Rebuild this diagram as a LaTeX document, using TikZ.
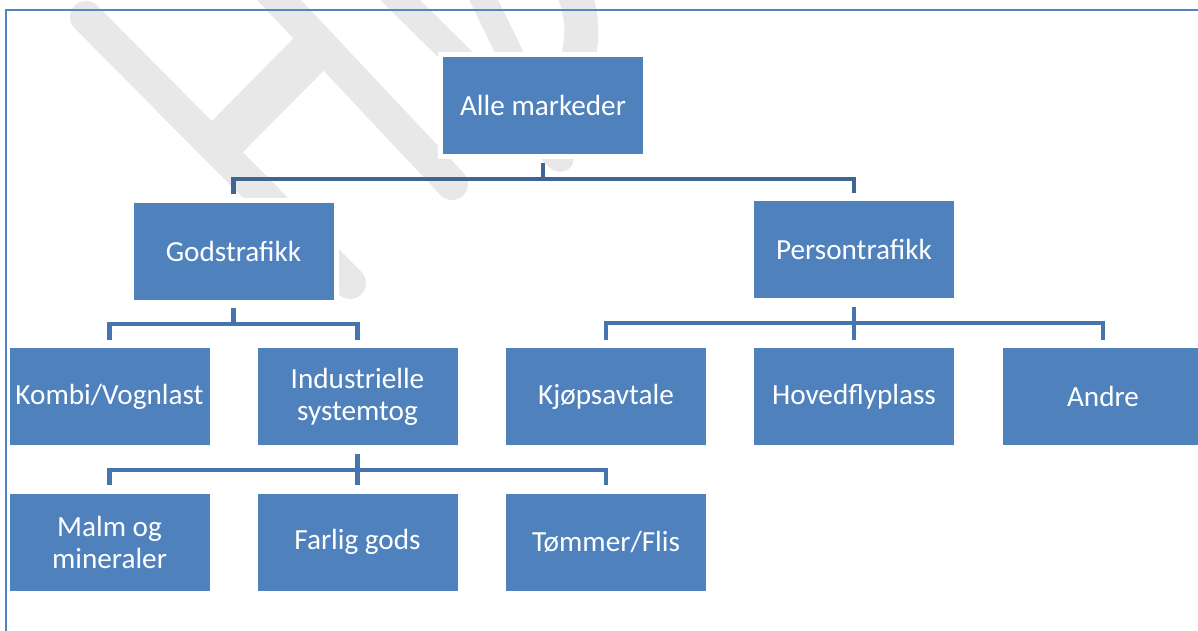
\documentclass[tikz,border=0pt]{standalone}
\usepackage{fontspec}
\setmainfont{Carlito}
\definecolor{boxblue}{HTML}{4F81BD}
\definecolor{connA}{HTML}{3E6596}
\definecolor{connB}{HTML}{4674AC}
\definecolor{wmgray}{HTML}{E8E8E8}
\definecolor{frameblue}{HTML}{5585C0}
\begin{document}
\begin{tikzpicture}[x=0.5pt,y=-0.5pt,
  box/.style={rectangle, fill=boxblue, draw=white, line width=2.5pt,
    minimum width=102.5pt, minimum height=51pt, inner sep=0pt,
    text=white, align=center, font=\fontsize{14.6}{16}\selectfont},
  conn/.style={line width=2.4pt, draw=connB, line join=miter},
  topconn/.style={conn, draw=connA},
  wm/.style={draw=wmgray, line width=16pt, line cap=round}]
\useasboundingbox (0,0) rectangle (1198,631);
\clip (0,0) rectangle (1198,631);
% watermark
\draw[wm] (86,17) -- (350,283);
\draw[wm] (265,-15) -- (452,184);
\draw[wm, line width=22pt, line cap=butt] (222,142) -- (316,47);
\draw[wm, line width=14pt] (385,-15) -- (560,158);
\draw[wm, line width=13pt] (478,-12) -- (525,85);
\draw[wm, line width=17pt] (572,-12) .. controls (590,30) and (580,60) .. (560,110);
% boxes
\node[box] (alle) at (543,105.5) {Alle markeder};
\node[box] (gods) at (233.5,251) {Godstrafikk};
\node[box] (pers) at (854,249.5) {Persontrafikk};
\node[box] (kombi) at (109.5,396.5) {Kombi/Vognlast};
\node[box] (indu) at (357.5,396.5) {Industrielle\\systemtog};
\node[box] (kjop) at (606,396.5) {Kjøpsavtale};
\node[box] (hoved) at (854,396.5) {Hovedflyplass};
\node[box] (andre) at (1103,396.5) {Andre};
\node[box] (malm) at (109.5,542) {Malm og\\mineraler};
\node[box] (farlig) at (357.5,542) {Farlig gods};
\node[box] (tommer) at (606,542) {Tømmer/Flis};
% frame
\draw[frameblue, line width=1.4pt] (6,631) -- (6,10);
\draw[frameblue, line width=1pt] (5,10) -- (1198,10);
% bus coordinates
\coordinate (bus0) at (543,179);
\coordinate (bus1) at (233.5,324);
\coordinate (bus2) at (854,323);
\coordinate (bus3) at (357.5,470);
% connectors
\draw[topconn] ([yshift=-1.75pt]alle.south) -- (bus0);
\draw[topconn] ([yshift=1.75pt]gods.north) -- (gods.north |- bus0) -- (pers.north |- bus0) -- ([yshift=1.75pt]pers.north);
\draw[conn] ([yshift=-1.75pt]gods.south) -- (bus1);
\draw[conn] ([yshift=1.75pt]kombi.north) -- (kombi.north |- bus1) -- (indu.north |- bus1) -- ([yshift=1.75pt]indu.north);
\draw[conn] ([yshift=-1.75pt]pers.south) -- (bus2);
\draw[conn] ([yshift=1.75pt]kjop.north) -- (kjop.north |- bus2) -- (andre.north |- bus2) -- ([yshift=1.75pt]andre.north);
\draw[conn] (bus2) -- ([yshift=1.75pt]hoved.north);
\draw[conn] ([yshift=-1.75pt]indu.south) -- (bus3);
\draw[conn] ([yshift=1.75pt]malm.north) -- (malm.north |- bus3) -- (tommer.north |- bus3) -- ([yshift=1.75pt]tommer.north);
\draw[conn] (bus3) -- ([yshift=1.75pt]farlig.north);
\end{tikzpicture}
\end{document}
